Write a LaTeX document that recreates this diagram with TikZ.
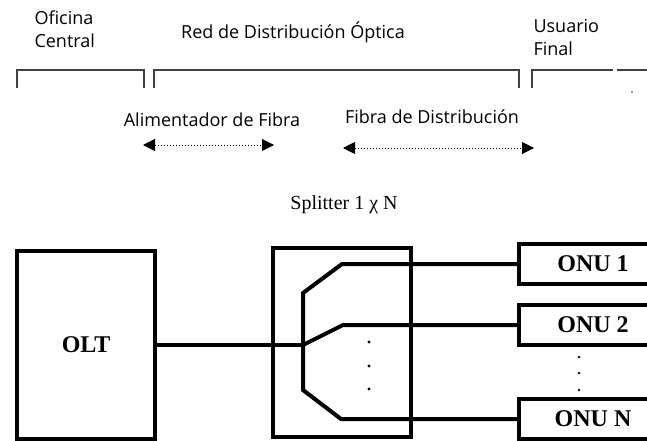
\documentclass[tikz,border=0pt]{standalone}
\usepackage{fontspec}
\setmainfont{Liberation Serif}
\newfontfamily\labfont{Open Sans}
\usetikzlibrary{arrows.meta}
\tikzset{
    box/.style={
        draw, line width=4pt, inner sep=0pt
    },
    onu/.style={
        box, anchor=west, minimum width=148pt, minimum height=40pt,
        font=\fontsize{24}{26}\selectfont\bfseries
    },
    lab/.style={
        font=\labfont\fontsize{18}{23}\selectfont, align=left
    },
    fib/.style={
        line width=4pt, line join=miter
    },
    span/.style={
        dotted, line width=1pt,
        {Triangle[length=12pt,width=12pt]}-{Triangle[length=12pt,width=12pt]}
    },
    bracket/.style={
        line width=1.3pt, draw=black!75
    }
}

\begin{document}
\begin{tikzpicture}[x=1pt,y=-1pt]

% --- canvas ---
    \useasboundingbox (0,0) rectangle (647,441);

% section labels
    \node[lab, anchor=west] (OC) at (31,29) {Oficina\\Central};
    \node[lab] (RDO) at (293,32) {Red de Distribución Óptica};
    \node[lab, anchor=west] (UF) at (530,37) {Usuario\\Final};

% brackets under the section labels
    \draw[bracket] (17,88) |- (144,70) -- (144,88);
    \draw[bracket] (154,88) |- (519,70) -- (519,88);
    \draw[bracket] (532,88) |- (613,70);
    \draw[bracket] (617,70) -- (647,70);
    \fill[black!75] (632,92) circle (0.8);

% fibre spans
    \node[lab] (AF) at (212,120) {Alimentador de Fibra};
    \node[lab] (FD) at (432,117) {Fibra de Distribución};
    \coordinate (AFl) at (143,145);
    \coordinate (AFr) at (274,145);
    \coordinate (FDl) at (343,148);
    \coordinate (FDr) at (534,148);
    \draw[span] (AFl) -- (AFr);
    \draw[span] (FDl) -- (FDr);

% OLT and splitter
    \node[box, minimum width=138pt, minimum height=188pt,
          font=\fontsize{24}{26}\selectfont\bfseries] (OLT) at (86,345) {OLT};
    \node[box, minimum width=138pt, minimum height=189pt] (SPL) at (342,342.5) {};
    \node[font=\fontsize{20}{24}\selectfont] (SPLlab) at (344,205) {Splitter 1 χ N};

% ONUs
    \node[onu] (ONU1) at (517,264) {ONU 1};
    \node[onu] (ONU2) at (517,325) {ONU 2};
    \node[onu] (ONUN) at (517,419) {ONU N};

% splitter branches
    \coordinate (J)  at (303,345);
    \coordinate (Jt) at (303,293);
    \coordinate (Jb) at (303,390);
    \draw[fib] (OLT.east) -- (J);
    \draw[fib] (ONU1.west) -- (342,264) -- (Jt) -- (Jb) -- (341,419) -- (ONUN.west);
    \draw[fib] (J) -- (343,325) -- (ONU2.west);

% dots
    \foreach \y in {342,366,389} \fill (369,\y) circle (1.6);
    \foreach \y in {357,373,390} \fill (579,\y) circle (1.3);

\end{tikzpicture}
\end{document}
